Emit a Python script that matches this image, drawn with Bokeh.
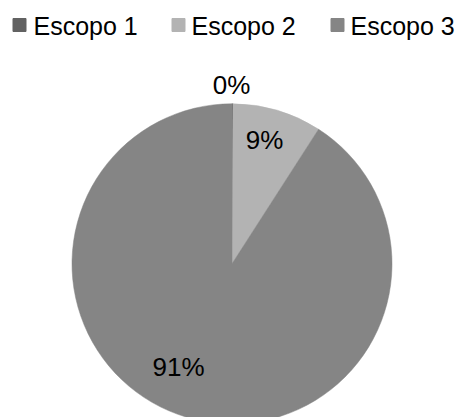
import math
from bokeh.plotting import figure
from bokeh.models import Range1d, ColumnDataSource
from bokeh.core.properties import value
from bokeh.embed import file_html
from bokeh.resources import INLINE

# ---- data ----
categories = ["Escopo 1", "Escopo 2", "Escopo 3"]
shares = [0.1, 9.0, 90.9]
pct_labels = ["0%", "9%", "91%"]
colors = ["#626262", "#b3b3b3", "#858585"]

# ---- layout (pixels) ----
W, H = 463, 417
cx, cy, R = 231.5, 263.3, 160
label_xy = [(231, 84), (264, 139), (178, 366)]
legend_sq_x = [19, 178, 337]
legend_tx_x = [33, 191, 350]
legend_y = 24.5

p = figure(width=W, height=H, output_backend="svg", toolbar_location=None,
           x_range=Range1d(0, W), y_range=Range1d(H, 0),
           min_border=0, outline_line_color=None)
p.axis.visible = False
p.grid.visible = False
p.background_fill_color = "white"
p.border_fill_color = "white"

# wedges: start at 12 o'clock, go clockwise on screen
total = sum(shares)
starts, ends = [], []
acc = 0.0
for s in shares:
    a0 = math.pi / 2 - 2 * math.pi * acc / total
    acc += s
    a1 = math.pi / 2 - 2 * math.pi * acc / total
    starts.append(a0)
    ends.append(a1)

src = ColumnDataSource(dict(start=starts, end=ends, color=colors, cat=categories))
p.wedge(x=cx, y=cy, radius=R, start_angle="start", end_angle="end",
        direction="clock", fill_color="color", line_color="color",
        line_width=0.5, source=src)

# percentage labels
p.text(x=[xy[0] for xy in label_xy], y=[xy[1] for xy in label_xy], text=pct_labels,
       text_font=value("Liberation Sans"), text_font_size="26px",
       text_align="center", text_baseline="middle", text_color="black")

# legend
p.scatter(x=legend_sq_x, y=[legend_y] * 3, marker="square", size=13,
          fill_color=colors, line_color=colors)
p.text(x=legend_tx_x, y=[legend_y + 1] * 3, text=categories,
       text_font=value("Liberation Sans"), text_font_size="25px",
       text_align="left", text_baseline="middle", text_color="black")

open("out.html", "w").write(file_html(p, INLINE))
